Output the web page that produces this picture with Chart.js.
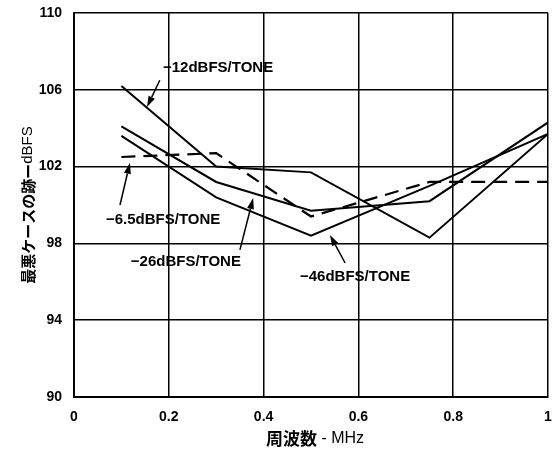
<!DOCTYPE html>
<html>
<head>
<meta charset="utf-8">
<script src="https://cdn.jsdelivr.net/npm/chart.js@4/dist/chart.umd.min.js"></script>
<style>
  html, body { margin: 0; padding: 0; background: #fff; }
  #wrap { width: 553px; height: 450px; }
</style>
</head>
<body>
<div id="wrap"><canvas id="chart" width="553" height="450"></canvas></div>
<script>
// Messpunkte (Frequenz in MHz)
const freqMHz = [0.1, 0.3, 0.5, 0.75, 1.0];

// Schlimmster Spur pro Pegel (dBFS)
const tone12 = [106.2, 102.0, 101.7, 98.3, 103.7];
const tone6_5 = [102.5, 102.7, 99.4, 101.2, 101.2];
const tone26 = [104.1, 101.2, 99.7, 100.2, 104.3];
const tone46 = [103.6, 100.4, 98.4, 101.0, 103.7];

// Achsen
const xTicks = [0, 0.2, 0.4, 0.6, 0.8, 1];
const yTicks = [90, 94, 98, 102, 106, 110];

// Beschriftungen: Text, Textmitte, Pfeil von -> nach (Datenkoordinaten)
const labelTexts = ["\u221212dBFS/TONE", "\u22126.5dBFS/TONE", "\u221226dBFS/TONE", "\u221246dBFS/TONE"];
const labelAt = [[0.304, 107.14], [0.188, 99.22], [0.236, 97.03], [0.593, 96.25]];
const arrowFrom = [[0.181, 106.5], [0.097, 100.0], [0.350, 97.66], [0.572, 96.98]];
const arrowTo = [[0.154, 105.1], [0.118, 102.2], [0.378, 100.36], [0.540, 98.44]];

const toPoints = (ys) => ys.map((y, i) => ({ x: freqMHz[i], y: y }));

const lineStyle = {
  borderColor: "#000",
  borderWidth: 2,
  pointRadius: 0,
  tension: 0,
  fill: false,
};

// Beschriftungen und Pfeile
const annotations = {
  id: "annotations",
  afterDatasetsDraw(chart) {
    const { ctx, scales: { x, y } } = chart;
    ctx.save();
    ctx.fillStyle = "#000";
    ctx.strokeStyle = "#000";
    ctx.font = "bold 15px 'Liberation Sans', Arial, sans-serif";
    ctx.textAlign = "center";
    ctx.textBaseline = "middle";
    labelTexts.forEach((t, i) => {
      ctx.fillText(t, x.getPixelForValue(labelAt[i][0]), y.getPixelForValue(labelAt[i][1]));

      const x0 = x.getPixelForValue(arrowFrom[i][0]), y0 = y.getPixelForValue(arrowFrom[i][1]);
      const x1 = x.getPixelForValue(arrowTo[i][0]), y1 = y.getPixelForValue(arrowTo[i][1]);
      const ang = Math.atan2(y1 - y0, x1 - x0);
      const len = 11, half = 3.5;
      const bx = x1 - len * Math.cos(ang), by = y1 - len * Math.sin(ang);
      ctx.lineWidth = 1.5;
      ctx.beginPath();
      ctx.moveTo(x0, y0);
      ctx.lineTo(bx, by);
      ctx.stroke();
      ctx.beginPath();
      ctx.moveTo(x1, y1);
      ctx.lineTo(bx + half * Math.sin(ang), by - half * Math.cos(ang));
      ctx.lineTo(bx - half * Math.sin(ang), by + half * Math.cos(ang));
      ctx.closePath();
      ctx.fill();
    });
    ctx.restore();
  }
};

// Achsentitel (fett + normal gemischt)
const axisTitles = {
  id: "axisTitles",
  afterDraw(chart) {
    const { ctx, chartArea } = chart;
    ctx.save();
    ctx.fillStyle = "#000";
    ctx.textBaseline = "middle";
    ctx.textAlign = "left";

    // x-Titel
    const xBold = "bold 17px 'Noto Sans CJK JP', sans-serif";
    const xNormal = "16px 'Liberation Sans', Arial, sans-serif";
    const xa = "周波数", xb = " - MHz";
    ctx.font = xBold; const wa = ctx.measureText(xa).width;
    ctx.font = xNormal; const wb = ctx.measureText(xb).width;
    const sx = 315 - (wa + wb) / 2;
    ctx.font = xBold; ctx.fillText(xa, sx, 439);
    ctx.font = xNormal; ctx.fillText(xb, sx + wa, 439);

    // y-Titel
    const yBold = "bold 15px 'Noto Sans CJK JP', sans-serif";
    const yNormal = "15px 'Liberation Sans', Arial, sans-serif";
    const ya = "最悪ケースの跡ー", yb = "dBFS";
    ctx.font = yBold; const ha = ctx.measureText(ya).width;
    ctx.font = yNormal; const hb = ctx.measureText(yb).width;
    ctx.translate(28, (chartArea.top + chartArea.bottom) / 2);
    ctx.rotate(-Math.PI / 2);
    const sy = -(ha + hb) / 2;
    ctx.font = yBold; ctx.fillText(ya, sy, 0);
    ctx.font = yNormal; ctx.fillText(yb, sy + ha, 0);
    ctx.restore();
  }
};

new Chart(document.getElementById("chart"), {
  type: "line",
  data: {
    datasets: [
      { ...lineStyle, label: "-12dBFS/TONE", data: toPoints(tone12) },
      { ...lineStyle, label: "-6.5dBFS/TONE", data: toPoints(tone6_5), borderDash: [14, 8], borderWidth: 2.2 },
      { ...lineStyle, label: "-26dBFS/TONE", data: toPoints(tone26) },
      { ...lineStyle, label: "-46dBFS/TONE", data: toPoints(tone46) },
    ]
  },
  options: {
    responsive: false,
    animation: false,
    layout: { padding: { top: 13, right: 5, left: 0, bottom: 0 } },
    plugins: { legend: { display: false }, tooltip: { enabled: false } },
    scales: {
      x: {
        type: "linear",
        min: 0, max: 1,
        afterBuildTicks: (s) => { s.ticks = xTicks.map(v => ({ value: v })); },
        afterFit: (s) => { s.height = 53; s.paddingLeft = 0; s.paddingRight = 0; },
        grid: { color: "#000", lineWidth: 1.5, drawTicks: false },
        border: { color: "#000", width: 2 },
        ticks: {
          color: "#000",
          padding: 12,
          maxRotation: 0,
          font: { family: "'Liberation Sans', Arial, sans-serif", size: 14, weight: "bold" },
          callback: (v) => String(v),
        }
      },
      y: {
        min: 90, max: 110,
        afterBuildTicks: (s) => { s.ticks = yTicks.map(v => ({ value: v })); },
        afterFit: (s) => { s.width = 74; s.paddingTop = 0; s.paddingBottom = 0; },
        grid: { color: "#000", lineWidth: 1.5, drawTicks: false },
        border: { color: "#000", width: 2 },
        ticks: {
          color: "#000",
          padding: 12,
          font: { family: "'Liberation Sans', Arial, sans-serif", size: 14, weight: "bold" },
        }
      }
    }
  },
  plugins: [annotations, axisTitles]
});
</script>
</body>
</html>
